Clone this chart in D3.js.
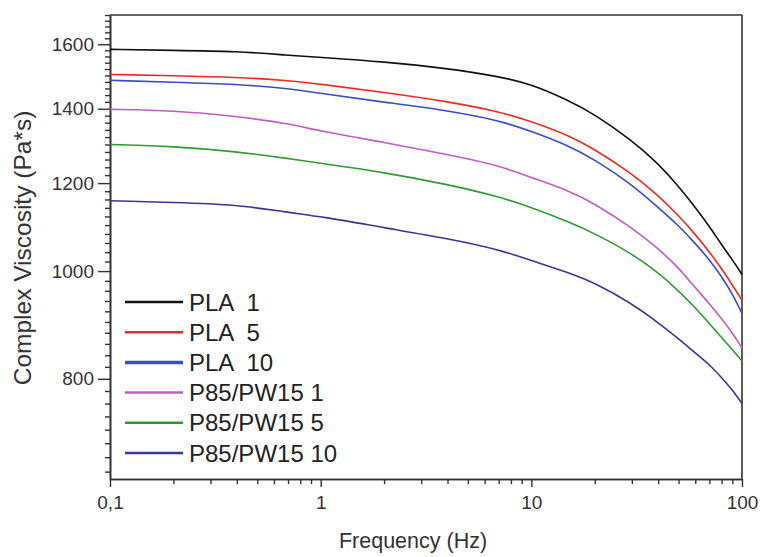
<!DOCTYPE html>
<html>
<head>
<meta charset="utf-8">
<script src="https://cdn.jsdelivr.net/npm/d3@7"></script>
<style>
  body { margin: 0; background: #fff; }
  svg { display: block; font-family: "Liberation Sans", Arial, sans-serif; }
</style>
</head>
<body>
<div id="chart"></div>
<script>
// frequency (Hz) sampled along the curves
const freq = [0.1, 0.2, 0.4, 0.7, 1, 2, 4, 7, 10, 15, 20, 30, 40, 50, 60, 70, 80, 90, 100];

// complex viscosity (Pa*s)
const pla1 = [1583, 1580, 1577, 1564, 1557, 1543, 1522, 1497, 1473, 1424, 1384, 1311, 1250, 1192, 1141, 1097, 1056, 1024, 993];
const pla5 = [1503, 1499, 1494, 1485, 1473, 1448, 1421, 1392, 1364, 1325, 1287, 1224, 1170, 1122, 1079, 1041, 1005, 972, 941];
const pla10 = [1485, 1479, 1473, 1460, 1445, 1419, 1395, 1367, 1336, 1297, 1260, 1197, 1141, 1099, 1059, 1024, 989, 954, 916];
const pw1 = [1398, 1395, 1378, 1358, 1336, 1306, 1273, 1245, 1214, 1182, 1150, 1094, 1048, 1007, 966, 935, 906, 880, 853];
const pw5 = [1300, 1295, 1281, 1263, 1250, 1227, 1197, 1167, 1141, 1108, 1081, 1037, 997, 960, 927, 897, 871, 850, 830];
const pw10 = [1157, 1153, 1148, 1129, 1120, 1094, 1070, 1046, 1022, 997, 976, 935, 899, 869, 844, 824, 802, 782, 760];

const seriesNames = ["PLA  1", "PLA  5", "PLA  10", "P85/PW15 1", "P85/PW15 5", "P85/PW15 10"];
const seriesColors = ["#111111", "#ee2a24", "#3d4bc4", "#c45cc0", "#2f9a35", "#3a3596"];
const seriesValues = [pla1, pla5, pla10, pw1, pw5, pw10];

const xMajor = [0.1, 1, 10, 100];
const xMajorLabels = ["0,1", "1", "10", "100"];
const yMajor = [800, 1000, 1200, 1400, 1600];

const width = 760, height = 557;
const margin = { left: 110, right: 18, top: 15, bottom: 78 };

const svg = d3.select("#chart")
    .append("svg")
    .attr("width", width)
    .attr("height", height);

const x = d3.scaleLog()
    .domain([0.1, 100])
    .range([margin.left, width - margin.right]);

const y = d3.scaleLog()
    .domain([650, 1700])
    .range([height - margin.bottom, margin.top]);

// minor ticks: 2..9 per decade on x, every 20 on y
const xMinor = [];
[0.1, 1, 10].forEach(d => {
    for (let k = 2; k <= 9; k++) xMinor.push(d * k);
});
const yMinor = d3.range(660, 1701, 20).filter(v => !yMajor.includes(v));

const axisColor = "#333";

function styleAxis(g) {
    g.selectAll("path").attr("stroke", axisColor).attr("stroke-width", 1.6);
    g.selectAll("line").attr("stroke", axisColor).attr("stroke-width", 1.4);
    g.selectAll("text").attr("fill", "#333").style("font-size", "19px");
}

// y axis
svg.append("g")
    .attr("transform", `translate(${margin.left},0)`)
    .call(d3.axisLeft(y).tickValues(yMinor).tickSize(5).tickFormat("").tickSizeOuter(0))
    .call(styleAxis);

svg.append("g")
    .attr("transform", `translate(${margin.left},0)`)
    .call(d3.axisLeft(y).tickValues(yMajor).tickSize(12).tickPadding(4).tickFormat(d3.format("d")).tickSizeOuter(0))
    .call(styleAxis);

// x axis
svg.append("g")
    .attr("transform", `translate(0,${height - margin.bottom})`)
    .call(d3.axisBottom(x).tickValues(xMinor).tickSize(5).tickFormat("").tickSizeOuter(0))
    .call(styleAxis);

svg.append("g")
    .attr("transform", `translate(0,${height - margin.bottom})`)
    .call(d3.axisBottom(x).tickValues(xMajor).tickSize(8).tickPadding(9)
        .tickFormat((d, i) => xMajorLabels[i]).tickSizeOuter(0))
    .call(styleAxis);

// top and right frame lines
svg.append("line")
    .attr("x1", x(0.1)).attr("x2", x(100))
    .attr("y1", y(1700)).attr("y2", y(1700))
    .attr("stroke", axisColor).attr("stroke-width", 1.6);
svg.append("line")
    .attr("x1", x(100)).attr("x2", x(100))
    .attr("y1", y(1700)).attr("y2", y(650))
    .attr("stroke", axisColor).attr("stroke-width", 1.6);

// curves
const line = d3.line()
    .x((d, i) => x(freq[i]))
    .y(d => y(d))
    .curve(d3.curveBasis);

svg.append("g")
    .selectAll("path")
    .data(seriesValues)
    .enter()
    .append("path")
    .attr("d", d => line(d))
    .attr("fill", "none")
    .attr("stroke", (d, i) => seriesColors[i])
    .attr("stroke-width", 1.6);

// axis titles
svg.append("text")
    .attr("x", 413)
    .attr("y", 548)
    .attr("text-anchor", "middle")
    .attr("fill", "#333")
    .style("font-size", "21.5px")
    .text("Frequency (Hz)");

svg.append("text")
    .attr("transform", "translate(31,248) rotate(-90)")
    .attr("text-anchor", "middle")
    .attr("fill", "#333")
    .style("font-size", "24.5px")
    .text("Complex Viscosity (Pa*s)");

// legend
const legend = svg.append("g").attr("transform", "translate(125,302)");
const rows = legend.selectAll("g")
    .data(seriesNames)
    .enter()
    .append("g")
    .attr("transform", (d, i) => `translate(0,${i * 30.2})`);

rows.append("line")
    .attr("x1", 0).attr("x2", 58)
    .attr("stroke", (d, i) => seriesColors[i])
    .attr("stroke-width", (d, i) => i === 2 ? 3.5 : 2.5);

rows.append("text")
    .attr("x", 64)
    .attr("dy", "0.36em")
    .attr("fill", "#222")
    .style("font-size", "24px")
    .style("white-space", "pre")
    .text(d => d);
</script>
</body>
</html>
